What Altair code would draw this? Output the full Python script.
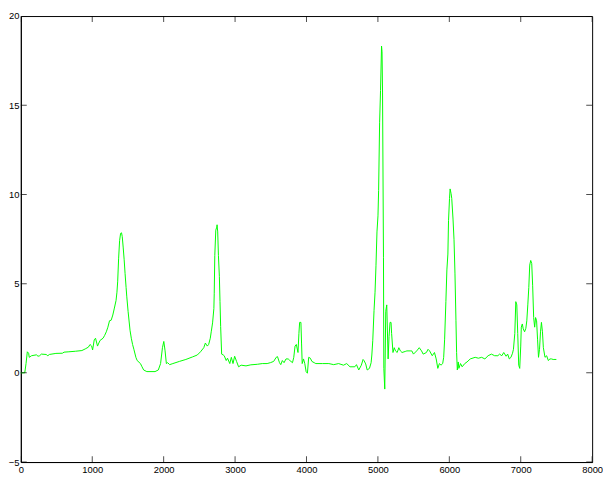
import altair as alt
import pandas as pd

# Spectrum trace (x position, signal value)
x_vals = [
    0, 55, 73, 91, 109, 118, 150, 218, 241, 264, 287, 355, 378, 400, 491, 582, 605, 673,
    764, 855, 901, 946, 969, 992, 1005, 1028, 1046, 1074, 1092, 1110, 1151, 1174, 1197,
    1219, 1242, 1265, 1288, 1310, 1333, 1346, 1356, 1369, 1383, 1397, 1410, 1420, 1433,
    1447, 1460, 1474, 1483, 1502, 1529, 1547, 1565, 1583, 1611, 1629, 1675, 1697, 1720,
    1765, 1879, 1925, 1957, 1983, 2002, 2020, 2038, 2056, 2084, 2129, 2220, 2311, 2402,
    2471, 2516, 2562, 2584, 2611, 2630, 2653, 2666, 2685, 2703, 2708, 2716, 2730, 2744,
    2748, 2757, 2767, 2780, 2789, 2798, 2812, 2835, 2848, 2876, 2894, 2926, 2948, 2971,
    2994, 3021, 3049, 3085, 3153, 3221, 3312, 3381, 3449, 3494, 3540, 3576, 3594, 3622,
    3640, 3662, 3686, 3713, 3744, 3767, 3804, 3822, 3840, 3858, 3881, 3894, 3904, 3922,
    3931, 3940, 3958, 3976, 3995, 4013, 4031, 4054, 4076, 4108, 4131, 4222, 4313, 4381,
    4450, 4518, 4563, 4609, 4677, 4700, 4732, 4768, 4792, 4805, 4829, 4850, 4882, 4905,
    4915, 4928, 4946, 4960, 4973, 4987, 5001, 5010, 5024, 5037, 5051, 5058, 5065, 5078,
    5083, 5096, 5110, 5124, 5143, 5156, 5170, 5184, 5192, 5211, 5229, 5246, 5270, 5293,
    5315, 5338, 5383, 5406, 5451, 5475, 5498, 5543, 5579, 5611, 5634, 5679, 5702, 5724,
    5761, 5792, 5816, 5839, 5861, 5884, 5907, 5921, 5934, 5952, 5966, 5980, 5989, 6003,
    6011, 6025, 6034, 6052, 6066, 6079, 6093, 6102, 6112, 6125, 6134, 6157, 6180, 6216,
    6248, 6293, 6362, 6407, 6453, 6498, 6543, 6590, 6635, 6680, 6703, 6735, 6762, 6795,
    6817, 6840, 6863, 6885, 6898, 6917, 6931, 6945, 6958, 6972, 6986, 7000, 7008, 7022,
    7035, 7054, 7072, 7085, 7099, 7113, 7126, 7140, 7154, 7167, 7181, 7195, 7208, 7222,
    7236, 7249, 7263, 7277, 7290, 7304, 7317, 7340, 7363, 7386, 7409, 7431, 7454, 7499,
]
y_vals = [
    0.0, 0.0, 0.52, 1.18, 1.1, 0.87, 0.96, 1.01, 0.93, 0.96, 1.05, 1.03, 0.96, 1.03, 1.09, 1.1, 1.16, 1.18,
    1.21, 1.25, 1.34, 1.44, 1.59, 1.5, 1.28, 1.85, 1.94, 1.5, 1.67, 1.82, 1.94, 2.1, 2.3,
    2.56, 2.92, 2.95, 3.24, 3.63, 4.05, 4.52, 5.1, 6.39, 7.41, 7.82, 7.85, 7.64, 7.05,
    6.34, 5.56, 4.79, 4.3, 3.45, 2.39, 1.94, 1.59, 1.32, 0.87, 0.69, 0.52, 0.34, 0.16,
    0.07, 0.07, 0.16, 0.52, 1.41, 1.76, 1.23, 0.52, 0.57, 0.46, 0.52, 0.64, 0.75, 0.89,
    1.0, 1.18, 1.41, 1.67, 1.5, 1.59, 1.94, 2.3, 2.8, 3.6, 4.43, 6.57, 8.0, 8.17,
    8.3, 7.9, 6.57, 5.41, 3.99, 2.6, 1.05, 1.0, 0.96, 0.69, 0.82, 0.52, 0.87, 0.52,
    0.93, 0.64, 0.34, 0.43, 0.39, 0.45, 0.48, 0.52, 0.52, 0.57, 0.64, 0.87, 0.91, 0.57,
    0.46, 0.69, 0.57, 0.78, 0.78, 0.69, 0.57, 0.87, 1.5, 1.59, 1.14, 2.21, 2.83, 2.83,
    1.67, 0.52, 0.78, 0.52, 0.07, -0.02, 0.87, 0.82, 0.64, 0.57, 0.52, 0.52, 0.52, 0.46,
    0.52, 0.43, 0.52, 0.34, 0.34, 0.46, 0.16, 0.43, 0.75, 0.69, 0.5, 0.16, 0.25, 0.57,
    1.0, 1.8, 3.5, 4.52, 6.0, 7.9, 8.8, 10.22, 14.05, 15.83, 18.32, 18.0, 15.74, 6.48,
    0.25, -0.91, 3.45, 3.81, 0.78, 2.03, 2.83, 2.83, 2.21, 1.14, 1.41, 1.23, 1.14, 1.41,
    1.23, 1.14, 1.2, 1.23, 1.23, 1.23, 1.05, 1.23, 1.41, 1.23, 1.05, 1.14, 1.32, 1.23,
    0.96, 1.14, 0.78, 0.25, 0.52, 0.43, 0.52, 0.87, 1.85, 3.99, 5.77, 6.66, 8.53, 9.78,
    10.31, 10.04, 9.78, 8.62, 7.46, 5.59, 2.92, 1.14, 0.16, 0.61, 0.25, 0.52, 0.34, 0.52,
    0.61, 0.78, 0.87, 0.82, 0.87, 0.78, 0.96, 1.05, 0.96, 0.96, 1.05, 0.96, 1.14, 0.93,
    1.05, 0.78, 0.87, 1.1, 1.32, 2.21, 3.99, 3.81, 2.21, 0.43, 0.25, 1.5, 2.56, 2.74,
    2.47, 2.3, 2.5, 2.92, 3.81, 4.79, 6.04, 6.3, 6.13, 4.88, 3.1, 2.56, 3.1, 2.92,
    1.85, 0.87, 1.32, 2.3, 2.83, 2.3, 1.41, 0.87, 0.96, 0.69, 0.78, 0.78, 0.75, 0.75,
]

x_ticks = [0, 1000, 2000, 3000, 4000, 5000, 6000, 7000, 8000]
y_ticks = [-5, 0, 5, 10, 15, 20]
x_edges = [0, 8000]
y_edges = [-5, 20]

df = pd.DataFrame({"x": x_vals, "y": y_vals})
xt = pd.DataFrame([{"t": t, "e": e} for t in x_ticks for e in y_edges])
yt = pd.DataFrame([{"t": t, "e": e} for t in y_ticks for e in x_edges])

W, H = 579, 452
FONT = "Liberation Sans"

xs = alt.Scale(domain=[0, 8000], nice=False, zero=False)
ys = alt.Scale(domain=[-5, 20], nice=False, zero=False)

# Green trace with the labelled axes (bottom and left)
main = alt.Chart(df).mark_line(color="#00ff00", strokeWidth=1).encode(
    x=alt.X("x:Q", scale=xs, title=None,
            axis=alt.Axis(orient="bottom", values=x_ticks, format="d", grid=False,
                          ticks=False, domain=True, domainColor="black", domainWidth=1,
                          labelFlush=False, labelPadding=3, labelFont=FONT,
                          labelFontSize=9.5, labelColor="black")),
    y=alt.Y("y:Q", scale=ys, title=None,
            axis=alt.Axis(orient="left", values=y_ticks, format="d", grid=False,
                          ticks=False, domain=True, domainColor="black", domainWidth=1,
                          labelFlush=False, labelPadding=2, labelFont=FONT,
                          labelFontSize=9.5, labelColor="black")),
)

# Inward ticks on the top and bottom edges (half of each tick is clipped away)
xticks = alt.Chart(xt).mark_tick(orient="vertical", size=12, thickness=1,
                                  color="black", clip=True).encode(
    x=alt.X("t:Q", scale=xs),
    y=alt.Y("e:Q", scale=ys),
)

# Inward ticks on the left and right edges
yticks = alt.Chart(yt).mark_tick(orient="horizontal", size=12, thickness=1,
                                  color="black", clip=True).encode(
    x=alt.X("e:Q", scale=xs),
    y=alt.Y("t:Q", scale=ys),
)

chart = (
    alt.layer(main, xticks, yticks)
    .properties(
        width=W,
        height=H,
        autosize=alt.AutoSizeParams(type="none"),
        padding={"left": 13, "top": 5, "right": 11, "bottom": 12},
        background="white",
    )
    .configure_view(stroke="black", strokeWidth=1)
)

chart.save("out.html", embed_options={"renderer": "svg", "actions": False})
